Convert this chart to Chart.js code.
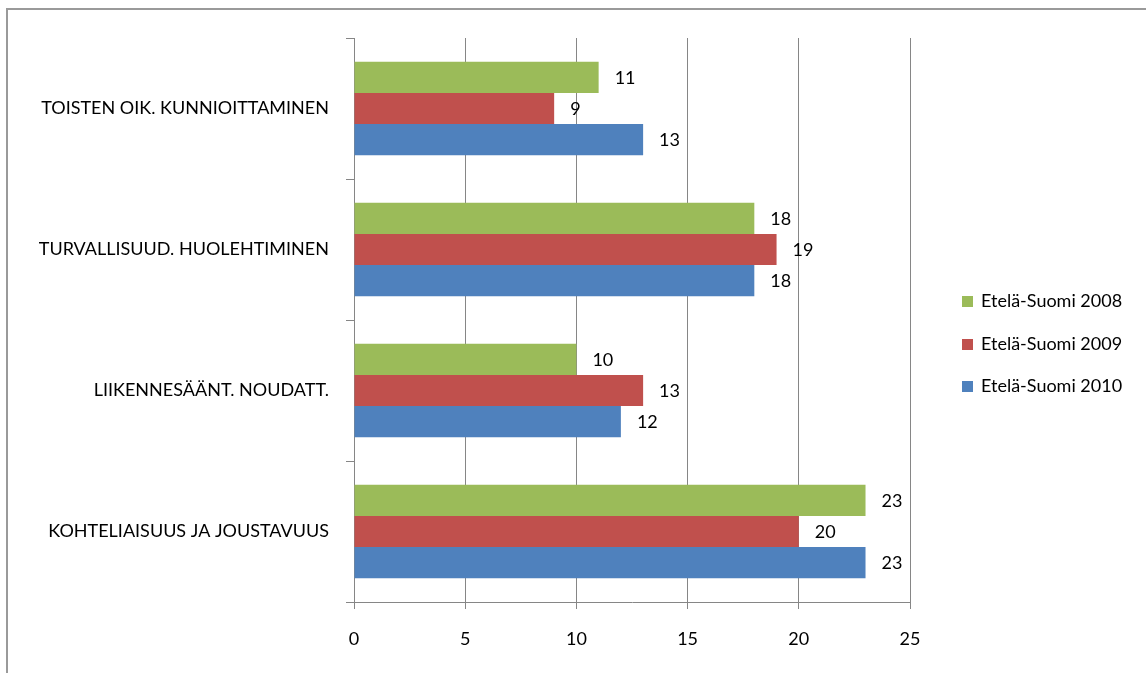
<!DOCTYPE html>
<html>
<head>
<meta charset="utf-8">
<script src="https://cdn.jsdelivr.net/npm/chart.js@4"></script>
<style>
    html, body { margin: 0; padding: 0; background: #fff; }
    #wrap { position: absolute; left: 0; top: 0; width: 1146px; height: 673px; }
    #frame { position: absolute; left: 6px; top: 8px; right: -10px; bottom: -10px;
             border-left: 2px solid #9a9a9a; border-top: 2px solid #9a9a9a; }
    #legend { position: absolute; left: 962px; top: 290px; font: 18px Lato, sans-serif; color: #000; }
    #legend div { height: 42.5px; line-height: 20px; white-space: nowrap; }
    #legend span { display: inline-block; width: 11px; height: 11px; margin-right: 8px; vertical-align: 0px; }
</style>
</head>
<body>
<div id="wrap">
    <div id="frame"></div>
    <canvas id="chart" width="1146" height="673"></canvas>
    <div id="legend"></div>
</div>
<script>
var kategoriat = ['TOISTEN OIK. KUNNIOITTAMINEN', 'TURVALLISUUD. HUOLEHTIMINEN', 'LIIKENNESÄÄNT. NOUDATT.', 'KOHTELIAISUUS JA JOUSTAVUUS'];
var sarjat = ['Etelä-Suomi 2008', 'Etelä-Suomi 2009', 'Etelä-Suomi 2010'];
var arvot2008 = [11, 18, 10, 23];
var arvot2009 = [9, 19, 13, 20];
var arvot2010 = [13, 18, 12, 23];
var varit = ['#9BBB59', '#C0504D', '#4F81BD'];

// arvot palkkien perään
var arvoTekstit = {
    id: 'arvoTekstit',
    afterDatasetsDraw: function(chart) {
        var ctx = chart.ctx;
        ctx.save();
        ctx.font = '18px Lato, sans-serif';
        ctx.fillStyle = '#000';
        ctx.textAlign = 'left';
        ctx.textBaseline = 'middle';
        chart.data.datasets.forEach(function(ds, i) {
            chart.getDatasetMeta(i).data.forEach(function(bar, j) {
                ctx.fillText(ds.data[j], bar.x + 16, bar.y + 1);
            });
        });
        ctx.restore();
    }
};

var data = [arvot2008, arvot2009, arvot2010];
var legend = document.getElementById('legend');
sarjat.forEach(function(s, i) {
    var d = document.createElement('div');
    d.innerHTML = '<span style="background:' + varit[i] + '"></span>' + s;
    legend.appendChild(d);
});

new Chart(document.getElementById('chart'), {
    type: 'bar',
    data: {
        labels: kategoriat,
        datasets: sarjat.map(function(s, i) {
            return {
                label: s,
                data: data[i],
                backgroundColor: varit[i],
                borderWidth: 0,
                categoryPercentage: 0.663,
                barPercentage: 1
            };
        })
    },
    options: {
        indexAxis: 'y',
        responsive: false,
        animation: false,
        layout: { padding: { left: 8, top: 38, right: 236, bottom: 0 } },
        plugins: { legend: { display: false }, tooltip: { enabled: false } },
        scales: {
            x: {
                min: 0,
                max: 25,
                ticks: { stepSize: 5, color: '#000', font: { family: 'Lato', size: 18 }, padding: 19 },
                grid: { color: '#868686', lineWidth: 1, tickLength: 7 },
                border: { color: '#868686', width: 1 },
                afterFit: function(s) { s.height = 71; }
            },
            y: {
                ticks: { color: '#000', font: { family: 'Lato', size: 18 }, padding: 17 },
                grid: { drawOnChartArea: false, color: '#868686', tickLength: 8, offset: true },
                border: { color: '#868686', width: 1 },
                afterFit: function(s) { s.width = 346; }
            }
        }
    },
    plugins: [arvoTekstit]
});
</script>
</body>
</html>
